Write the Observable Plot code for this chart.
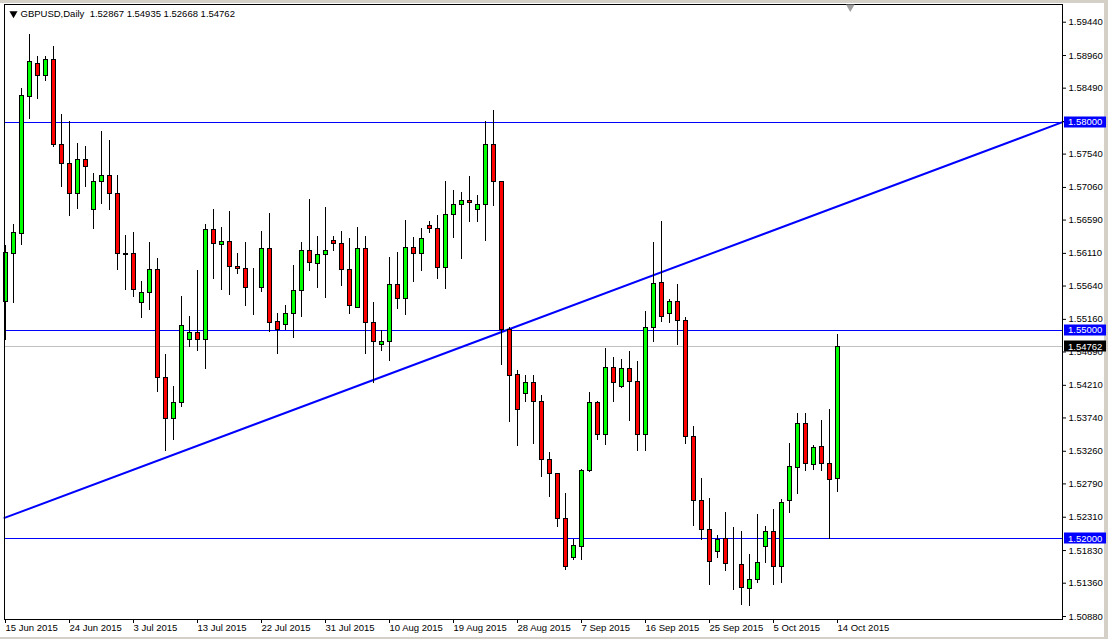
<!DOCTYPE html>
<html><head><meta charset="utf-8">
<script src="https://cdn.jsdelivr.net/npm/d3@7"></script>
<script src="https://cdn.jsdelivr.net/npm/@observablehq/plot@0.6"></script>
<style>
html,body{margin:0;padding:0;background:#fff;}
#wrap{position:relative;width:1108px;height:639px;background:#d4d0c8;overflow:hidden}
#inner{position:absolute;left:0;top:3px;width:1104px;height:634px;background:#fff}
#chart{position:absolute;left:0;top:0}
</style></head><body>
<div id="wrap"><div id="inner"></div><div id="chart"></div></div>
<script>
const symbolTitle = "GBPUSD,Daily\u00a0\u00a01.52867 1.54935 1.52668 1.54762";

const open = [
1.5541, 1.5610, 1.5639, 1.5836, 1.5884, 1.5866, 1.5890, 1.5767, 1.5740, 1.5697,
1.5746, 1.5674, 1.5714, 1.5723, 1.5697, 1.5610, 1.5610, 1.5540, 1.5554, 1.5587,
1.5432, 1.5372, 1.5396, 1.5486, 1.5497, 1.5486, 1.5644, 1.5623, 1.5628, 1.5592,
1.5588, 1.5561, 1.5561, 1.5617, 1.5512, 1.5508, 1.5524, 1.5557, 1.5614, 1.5596,
1.5609, 1.5629, 1.5625, 1.5587, 1.5533, 1.5617, 1.5511, 1.5479, 1.5483, 1.5565,
1.5545, 1.5619, 1.5610, 1.5651, 1.5646, 1.5590, 1.5666, 1.5680, 1.5686, 1.5673,
1.5681, 1.5767, 1.5714, 1.5500, 1.5436, 1.5408, 1.5425, 1.5397, 1.5313, 1.5293,
1.5228, 1.5172, 1.5188, 1.5298, 1.5395, 1.5349, 1.5446, 1.5418, 1.5444, 1.5426,
1.5349, 1.5503, 1.5568, 1.5524, 1.5541, 1.5513, 1.5346, 1.5255, 1.5213, 1.5181,
1.5199, 1.5162, 1.5162, 1.5128, 1.5140, 1.5188, 1.5210, 1.5160, 1.5254, 1.5302,
1.5366, 1.5306, 1.5332, 1.5307, 1.52867
];
const high = [
1.5622, 1.5653, 1.5848, 1.5927, 1.5895, 1.5895, 1.5909, 1.5811, 1.5801, 1.5769,
1.5765, 1.5726, 1.5787, 1.5774, 1.5723, 1.5637, 1.5641, 1.5570, 1.5626, 1.5603,
1.5465, 1.5419, 1.5549, 1.5520, 1.5587, 1.5653, 1.5674, 1.5649, 1.5671, 1.5611,
1.5627, 1.5589, 1.5642, 1.5669, 1.5524, 1.5536, 1.5593, 1.5626, 1.5689, 1.5635,
1.5677, 1.5636, 1.5643, 1.5633, 1.5648, 1.5635, 1.5541, 1.5500, 1.5605, 1.5613,
1.5658, 1.5634, 1.5647, 1.5657, 1.5666, 1.5715, 1.5701, 1.5698, 1.5722, 1.5694,
1.5801, 1.5817, 1.5715, 1.5504, 1.5442, 1.5435, 1.5435, 1.5406, 1.5324, 1.5294,
1.5265, 1.5199, 1.5300, 1.5411, 1.5398, 1.5474, 1.5461, 1.5458, 1.5469, 1.5455,
1.5527, 1.5627, 1.5657, 1.5544, 1.5566, 1.5519, 1.5362, 1.5287, 1.5258, 1.5205,
1.5238, 1.5216, 1.5211, 1.5177, 1.5235, 1.5217, 1.5242, 1.5256, 1.5337, 1.5381,
1.5381, 1.5335, 1.5371, 1.5386, 1.54935
];
const low = [
1.5485, 1.5539, 1.5623, 1.5804, 1.5833, 1.5859, 1.5763, 1.5706, 1.5664, 1.5674,
1.5706, 1.5646, 1.5681, 1.5673, 1.5586, 1.5557, 1.5548, 1.5517, 1.5529, 1.5411,
1.5326, 1.5341, 1.5389, 1.5475, 1.5469, 1.5444, 1.5574, 1.5557, 1.5551, 1.5581,
1.5535, 1.5522, 1.5555, 1.5497, 1.5465, 1.5500, 1.5488, 1.5519, 1.5585, 1.5561,
1.5546, 1.5614, 1.5563, 1.5523, 1.5531, 1.5465, 1.5423, 1.5469, 1.5455, 1.5530,
1.5522, 1.5569, 1.5585, 1.5639, 1.5574, 1.5559, 1.5633, 1.5602, 1.5656, 1.5655,
1.5628, 1.5679, 1.5449, 1.5367, 1.5333, 1.5396, 1.5336, 1.5288, 1.5260, 1.5216,
1.5154, 1.5169, 1.5168, 1.5296, 1.5342, 1.5335, 1.5396, 1.5417, 1.5369, 1.5326,
1.5326, 1.5483, 1.5512, 1.5510, 1.5478, 1.5336, 1.5217, 1.5198, 1.5133, 1.5172,
1.5153, 1.5125, 1.5104, 1.5103, 1.5136, 1.5164, 1.5133, 1.5136, 1.5237, 1.5264,
1.5297, 1.5298, 1.5297, 1.5199, 1.52668
];
const close = [
1.5611, 1.5640, 1.5838, 1.5886, 1.5866, 1.5890, 1.5767, 1.5740, 1.5697, 1.5746,
1.5735, 1.5714, 1.5723, 1.5697, 1.5610, 1.5609, 1.5558, 1.5554, 1.5587, 1.5432,
1.5372, 1.5395, 1.5507, 1.5497, 1.5486, 1.5644, 1.5625, 1.5628, 1.5592, 1.5588,
1.5561, 1.5561, 1.5617, 1.5511, 1.5500, 1.5524, 1.5557, 1.5614, 1.5597, 1.5609,
1.5615, 1.5625, 1.5587, 1.5535, 1.5617, 1.5511, 1.5484, 1.5484, 1.5565, 1.5545,
1.5619, 1.5610, 1.5632, 1.5646, 1.5590, 1.5666, 1.5680, 1.5686, 1.5684, 1.5681,
1.5767, 1.5714, 1.5501, 1.5435, 1.5385, 1.5425, 1.5397, 1.5313, 1.5293, 1.5229,
1.5160, 1.5189, 1.5298, 1.5395, 1.5349, 1.5446, 1.5424, 1.5444, 1.5426, 1.5349,
1.5503, 1.5567, 1.5519, 1.5541, 1.5513, 1.5346, 1.5255, 1.5213, 1.5167, 1.5198,
1.5163, 1.5162, 1.5129, 1.5140, 1.5165, 1.5210, 1.5160, 1.5252, 1.5304, 1.5366,
1.5307, 1.5330, 1.5307, 1.5284, 1.54762
];

const xTickIndex = [0, 8, 16, 24, 32, 40, 48, 56, 64, 72, 80, 88, 96, 104];
const xTickLabels = ["15 Jun 2015", "24 Jun 2015", "3 Jul 2015", "13 Jul 2015", "22 Jul 2015",
  "31 Jul 2015", "10 Aug 2015", "19 Aug 2015", "28 Aug 2015", "7 Sep 2015", "16 Sep 2015",
  "25 Sep 2015", "5 Oct 2015", "14 Oct 2015"];
const yTicks = [1.5944, 1.5896, 1.5849, 1.5801, 1.5754, 1.5706, 1.5659, 1.5611, 1.5564, 1.5516,
  1.5469, 1.5421, 1.5374, 1.5326, 1.5279, 1.5231, 1.5183, 1.5136, 1.5088];

const levelLines = [1.58, 1.55, 1.52];
const bidPrice = 1.54762;
const trendIndex = [-0.125, 132.125];
const trendPrice = [1.5230, 1.5800];
const shiftMarkerIndex = [105.6];

const candles = open.map((o, i) => ({i, open: o, high: high[i], low: low[i], close: close[i]}));
const trend = trendIndex.map((t, k) => ({i: t, p: trendPrice[k]}));

const FONT = "'Liberation Sans', Arial, sans-serif";

const plot = Plot.plot({
  width: 1108, height: 639,
  marginLeft: 4, marginRight: 46, marginTop: 4, marginBottom: 20,
  style: {background: "transparent", fontFamily: FONT, fontSize: "9.5px", color: "black", overflow: "visible"},
  x: {type: "linear", domain: [-0.125, 132.125]},
  y: {domain: [1.50837, 1.59695]},
  marks: [
    Plot.ruleY([bidPrice], {stroke: "#c0c0c0", strokeWidth: 1, shapeRendering: "crispEdges"}),
    Plot.ruleY(levelLines, {stroke: "#0000ff", strokeWidth: 1, shapeRendering: "crispEdges"}),
    Plot.line(trend, {x: "i", y: "p", stroke: "#0000ff", strokeWidth: 2}),
    Plot.ruleX(candles, {x: "i", y1: "low", y2: "high", stroke: "black", strokeWidth: 1, shapeRendering: "crispEdges"}),
    Plot.rect(candles, {
      x1: d => d.i - 0.25, x2: d => d.i + 0.25,
      y1: "open", y2: "close",
      fill: d => d.close >= d.open ? "#00ff00" : "#ff0000",
      stroke: "black", strokeWidth: 1, shapeRendering: "crispEdges"
    }),
    Plot.frame({stroke: "black", shapeRendering: "crispEdges"}),
    Plot.axisY({anchor: "right", ticks: yTicks, tickFormat: d => d.toFixed(5), tickSize: 3, tickPadding: 3, label: null, fill: "black", stroke: "black"}),
    Plot.axisX({anchor: "bottom", ticks: xTickIndex, tickFormat: d => xTickLabels[xTickIndex.indexOf(d)],
      tickSize: 4, tickPadding: 1, textAnchor: "start", label: null, fill: "black", stroke: "black"}),
    Plot.text([symbolTitle], {frameAnchor: "top-left", text: d => d, dx: 16, dy: 9, lineAnchor: "middle", textAnchor: "start", fill: "black"}),
    Plot.dot([0], {frameAnchor: "top-left", dx: 9, dy: 9, symbol: "triangle", rotate: 180, r: 3, fill: "black", stroke: null}),
    Plot.dot(shiftMarkerIndex, {x: d => d, frameAnchor: "top", dy: 2.5, symbol: "triangle", rotate: 180, r: 3.2, fill: "#a0a0a0", stroke: null})
  ]
});

document.getElementById("chart").appendChild(plot);

// price label boxes on the right axis (drawn over the axis tick labels they hide)
const ys = plot.scale("y");
const xs = plot.scale("x");
const axisX0 = xs.range[1];
const boxes = [
  {v: 1.58, fill: "#0000ff"},
  {v: 1.55, fill: "#0000ff"},
  {v: bidPrice, fill: "#000000"},
  {v: 1.52, fill: "#0000ff"}
];
const g = d3.select(plot).append("g")
  .attr("font-family", FONT).attr("font-size", "9.5px").attr("text-anchor", "start");
boxes.forEach(b => {
  const y = ys.apply(b.v);
  g.append("rect").attr("x", axisX0 + 2).attr("y", Math.round(y) - 5.5)
    .attr("width", 42).attr("height", 11).attr("fill", b.fill);
  g.append("text").attr("x", axisX0 + 6).attr("y", y).attr("dy", "0.35em")
    .attr("text-anchor", "start").attr("fill", "white").text(b.v.toFixed(5));
});
</script></body></html>
